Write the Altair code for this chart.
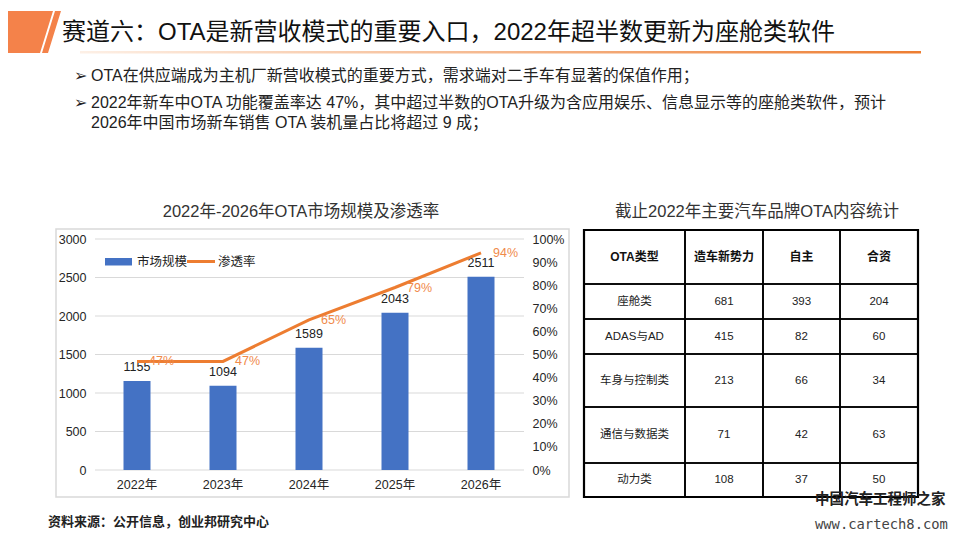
import altair as alt
import pandas as pd

# ---------------- data ----------------
years = ["2022年", "2023年", "2024年", "2025年", "2026年"]
market_size = [1155, 1094, 1589, 2043, 2511]
penetration = [0.47, 0.47, 0.65, 0.79, 0.94]
left_ticks = [0, 500, 1000, 1500, 2000, 2500, 3000]
right_ticks = [0, 0.1, 0.2, 0.3, 0.4, 0.5, 0.6, 0.7, 0.8, 0.9, 1.0]

table_header = ["OTA类型", "造车新势力", "自主", "合资"]
ota_types = ["座舱类", "ADAS与AD", "车身与控制类", "通信与数据类", "动力类"]
new_forces = [681, 415, 213, 71, 108]
domestic = [393, 82, 66, 42, 37]
joint_venture = [204, 60, 34, 63, 50]

title_text = "赛道六：OTA是新营收模式的重要入口，2022年超半数更新为座舱类软件"
bullets = [
    "OTA在供应端成为主机厂新营收模式的重要方式，需求端对二手车有显著的保值作用；",
    "2022年新车中OTA 功能覆盖率达 47%，其中超过半数的OTA升级为含应用娱乐、信息显示等的座舱类软件，预计",
    "2026年中国市场新车销售 OTA 装机量占比将超过 9 成；",
]
chart_title = "2022年-2026年OTA市场规模及渗透率"
table_title = "截止2022年主要汽车品牌OTA内容统计"
source_text = "资料来源：公开信息，创业邦研究中心"

# ---------------- layout ----------------
W, H = 944, 524
FONT = "'Liberation Sans', 'Noto Sans CJK SC', sans-serif"
BLUE = "#4472C4"
ORANGE = "#ED7D31"
col_w = [101, 78, 77, 78]
row_h = [54, 35, 35, 53, 56, 34]


def gx(px):
    return px - 8


def gy(py):
    return py - 8


one = pd.DataFrame({"d": [0]})


def txt(t, x, y, size, color="#222222", weight="normal", align="left", font=FONT):
    return alt.Chart(one).mark_text(
        text=t, align=align, baseline="middle", fontSize=size, font=font,
        fontWeight=weight, color=color
    ).encode(x=alt.value(gx(x)), y=alt.value(gy(y)))


layers = []

# header decoration
shape_path = "M-8,0 L45,0 L32,42 L-8,42 Z M47,0 L53,0 L40,42 L34,42 Z"
layers.append(
    alt.Chart(one).mark_point(shape=shape_path, filled=True, size=4, color="#F4824A",
                              opacity=1, strokeWidth=0)
    .encode(x=alt.value(0), y=alt.value(3))
)
layers.append(txt(title_text, 62, 33, 24, color="#111111"))
layers.append(
    alt.Chart(one).mark_rect(
        color=alt.LinearGradient(
            gradient="linear", x1=0, x2=1, y1=0, y2=0,
            stops=[alt.GradientStop(offset=0, color="#FDF0E6"),
                   alt.GradientStop(offset=1, color=ORANGE)])
    ).encode(x=alt.value(gx(80)), x2=alt.value(gx(921)), y=alt.value(gy(51)), y2=alt.value(gy(53.5)))
)

# bullets
for i, (t, y) in enumerate(zip(bullets, [76, 103, 123])):
    if i < 2:
        layers.append(txt("➢", 74, y, 16, font="DejaVu Sans", color="#222222"))
    layers.append(txt(t, 91, y, 16, color="#222222"))

# ---------------- combo chart ----------------
layers.append(txt(chart_title, 301, 212, 16.5, color="#333333", align="center"))
layers.append(
    alt.Chart(one).mark_rect(fillOpacity=0, stroke="#D9D9D9", strokeWidth=1.5)
    .encode(x=alt.value(gx(56)), x2=alt.value(gx(569)), y=alt.value(gy(229)), y2=alt.value(gy(497)))
)

df = pd.DataFrame({"year": years, "market": market_size, "rate": penetration})
xs = alt.Scale(domain=years, range=[gx(94), gx(524)], paddingInner=0.686, paddingOuter=0.343)
yl = alt.Scale(domain=[0, 3000], range=[gy(470), gy(239)], nice=False)
yr = alt.Scale(domain=[0, 1], range=[gy(470), gy(239)], nice=False)

axis_common = dict(ticks=False, tickSize=0, domain=False, grid=False, title=None,
                   labelFont=FONT, labelFontSize=12.5, labelColor="#262626")

grid_df = pd.DataFrame({"v": left_ticks})
layers.append(
    alt.Chart(grid_df).mark_rule(color="#D9D9D9", strokeWidth=1.2)
    .encode(y=alt.Y("v:Q", scale=yl, axis=None), x=alt.value(gx(95)), x2=alt.value(gx(524)))
)

bars = alt.Chart(df).mark_bar(color=BLUE).encode(
    x=alt.X("year:N", scale=xs, sort=years,
            axis=alt.Axis(orient="bottom", offset=gy(470) - H, labelPadding=8,
                          labelAngle=0, **axis_common)),
    y=alt.Y("market:Q", scale=yl,
            axis=alt.Axis(orient="left", offset=-gx(86), values=left_ticks, format="d",
                          labelPadding=0, **axis_common)),
)
bar_labels = alt.Chart(df).mark_text(dy=-14, baseline="middle", fontSize=12.5, font=FONT,
                                     color="#222222").encode(
    x=alt.X("year:N", scale=xs, sort=years, axis=None),
    y=alt.Y("market:Q", scale=yl, axis=None),
    text=alt.Text("market:Q", format="d"),
)
line = alt.Chart(df).mark_line(color=ORANGE, strokeWidth=3).encode(
    x=alt.X("year:N", scale=xs, sort=years, axis=None),
    y=alt.Y("rate:Q", scale=yr,
            axis=alt.Axis(orient="right", offset=gx(532) - W, values=right_ticks,
                          format=".0%", labelPadding=0, labelAlign="left", **axis_common)),
)
line_labels = alt.Chart(df).mark_text(align="left", dx=12, baseline="middle", fontSize=12.5,
                                      font=FONT, color="#F08A4B").encode(
    x=alt.X("year:N", scale=xs, sort=years, axis=None),
    y=alt.Y("rate:Q", scale=yr, axis=None),
    text=alt.Text("rate:Q", format=".0%"),
)
layers += [bars, bar_labels, line, line_labels]

# legend
layers.append(
    alt.Chart(one).mark_rect(color=BLUE)
    .encode(x=alt.value(gx(105)), x2=alt.value(gx(132)), y=alt.value(gy(258)), y2=alt.value(gy(265.5)))
)
layers.append(txt("市场规模", 137, 261.5, 12.5))
layers.append(
    alt.Chart(one).mark_rule(color=ORANGE, strokeWidth=3)
    .encode(x=alt.value(gx(187)), x2=alt.value(gx(215)), y=alt.value(gy(261.5)))
)
layers.append(txt("渗透率", 218, 261.5, 12.5))

# ---------------- table ----------------
layers.append(txt(table_title, 757, 212, 16.5, color="#333333", align="center"))

x_edges = [0]
for w in col_w:
    x_edges.append(x_edges[-1] + w)
y_edges = [0]
for h in row_h:
    y_edges.append(y_edges[-1] + h)

rows = [table_header] + [
    [t, str(a), str(b), str(c)] for t, a, b, c in zip(ota_types, new_forces, domestic, joint_venture)
]
cells = []
for r, row in enumerate(rows):
    for c, label in enumerate(row):
        cells.append({
            "x0": x_edges[c], "x1": x_edges[c + 1], "xc": (x_edges[c] + x_edges[c + 1]) / 2,
            "y0": y_edges[r], "y1": y_edges[r + 1], "yc": (y_edges[r] + y_edges[r + 1]) / 2,
            "label": label, "header": r == 0,
        })
cells = pd.DataFrame(cells)
xt = alt.Scale(domain=[0, x_edges[-1]], range=[gx(584), gx(918)], nice=False, zero=False)
yt = alt.Scale(domain=[0, y_edges[-1]], range=[gy(230), gy(497)], nice=False, zero=False)

layers.append(
    alt.Chart(cells).mark_rect(fillOpacity=0, stroke="#000000", strokeWidth=1.6).encode(
        x=alt.X("x0:Q", scale=xt, axis=None), x2="x1:Q",
        y=alt.Y("y0:Q", scale=yt, axis=None), y2="y1:Q")
)
outer = pd.DataFrame({"x0": [0], "x1": [x_edges[-1]], "y0": [0], "y1": [y_edges[-1]]})
layers.append(
    alt.Chart(outer).mark_rect(fillOpacity=0, stroke="#000000", strokeWidth=2.2).encode(
        x=alt.X("x0:Q", scale=xt, axis=None), x2="x1:Q",
        y=alt.Y("y0:Q", scale=yt, axis=None), y2="y1:Q")
)
layers.append(
    alt.Chart(cells).transform_filter("datum.header").mark_text(
        fontSize=12, fontWeight="bold", font=FONT, color="#111111", baseline="middle"
    ).encode(x=alt.X("xc:Q", scale=xt, axis=None), y=alt.Y("yc:Q", scale=yt, axis=None),
             text="label:N")
)
layers.append(
    alt.Chart(cells).transform_filter("!datum.header").mark_text(
        fontSize=11.5, font=FONT, color="#222222", baseline="middle"
    ).encode(x=alt.X("xc:Q", scale=xt, axis=None), y=alt.Y("yc:Q", scale=yt, axis=None),
             text="label:N")
)

# ---------------- footer ----------------
layers.append(txt(source_text, 48, 522, 13, weight="bold", color="#222222"))
layers.append(txt("中国汽车工程师之家", 815, 500, 14.5, weight="bold", color="#222222",
                  font="'Noto Sans CJK SC', sans-serif"))
layers.append(txt("www.cartech8.com", 815, 525, 13.8, color="#444444",
                  font="'DejaVu Sans Mono', monospace"))

chart = (
    alt.layer(*layers)
    .resolve_scale(x="independent", y="independent")
    .properties(width=W, height=H, autosize=alt.AutoSizeParams(type="none"), padding=0)
    .configure_view(strokeWidth=0)
)

chart.save("out.html", embed_options={"renderer": "svg", "actions": False})
